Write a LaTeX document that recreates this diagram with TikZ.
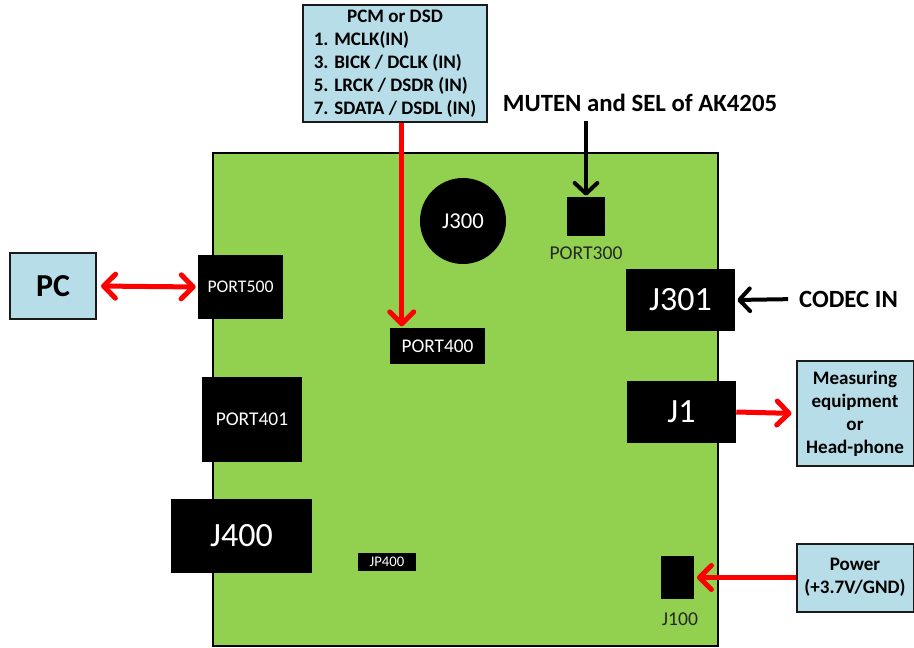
\documentclass[tikz,border=0pt]{standalone}
\usepackage{fontspec}
\setmainfont{Carlito}
\usetikzlibrary{arrows.meta,calc}
\definecolor{boardgreen}{HTML}{92D050}
\definecolor{lightblue}{HTML}{B7DEE8}
\definecolor{boxline}{HTML}{1A1A1A}
\definecolor{lbltext}{HTML}{262626}
\begin{document}
\begin{tikzpicture}[x=0.75pt,y=-0.75pt,
  board/.style={fill=boardgreen, draw=black, line width=1.5pt, inner sep=0pt},
  blk/.style={fill=black, draw=none, text=white, inner sep=0pt},
  bluebox/.style={fill=lightblue, draw=boxline, line width=1.5pt, inner sep=0pt, align=center,
    font=\bfseries\fontsize{14.3}{17.25}\selectfont},
  redarr/.style={draw=red, line width=3.75pt, -{Straight Barb[length=9pt,width=18pt,round]}},
  redarr2/.style={draw=red, line width=3.75pt, {Straight Barb[length=9pt,width=18pt,round]}-{Straight Barb[length=9pt,width=18pt,round]}},
  blkarr/.style={draw=black, line width=3pt, -{Straight Barb[length=8pt,width=17pt,round]}},
  lbl/.style={text=lbltext, inner sep=0pt, font=\fontsize{14.7}{17}\selectfont},
  bigtxt/.style={inner sep=0pt, font=\bfseries\fontsize{18.6}{22}\selectfont}
]
\useasboundingbox (0,0) rectangle (914,648);

% board
\node[board, minimum width=378.75pt, minimum height=369.75pt] (board) at (465.5,399.5) {};

% components
\node[blk, minimum width=63.75pt, minimum height=48pt, font=\fontsize{13.3}{15}\selectfont] (port500) at (240.5,287) {PORT500};
\node[blk, minimum width=71.25pt, minimum height=27pt, font=\fontsize{14.5}{16}\selectfont] (port400) at (437.5,346) {PORT400};
\node[blk, circle, minimum size=64.5pt, font=\fontsize{17}{20}\selectfont] (j300) at (463,221) {J300};
\node[blk, minimum width=28.5pt, minimum height=29.25pt] (port300) at (586,216.5) {};
\node[lbl] (port300lbl) at (586,253) {PORT300};
\node[blk, minimum width=81.75pt, minimum height=46.5pt, font=\fontsize{25.5}{30}\selectfont] (j301) at (680.5,300) {J301};
\node[blk, minimum width=81.75pt, minimum height=46.5pt, font=\fontsize{25.5}{30}\selectfont] (j1) at (681.5,412) {J1};
\node[blk, minimum width=75pt, minimum height=63.75pt, font=\fontsize{14.6}{16}\selectfont] (port401) at (252,419.5) {PORT401};
\node[blk, minimum width=105.75pt, minimum height=55.5pt, font=\fontsize{25.5}{30}\selectfont] (j400) at (241.5,536) {J400};
\node[blk, minimum width=43.5pt, minimum height=13.5pt, font=\fontsize{11}{12}\selectfont] (jp400) at (387,562) {JP400};
\node[blk, minimum width=24.75pt, minimum height=32.25pt] (j100) at (677.5,577.5) {};
\node[lbl] (j100lbl) at (680,619) {J100};

% external boxes
\node[bluebox, minimum width=64.5pt, minimum height=49.5pt, font=\bfseries\fontsize{24}{28}\selectfont] (pc) at (53,286) {PC};
\node[bluebox, minimum width=138pt, minimum height=87.75pt] (pcm) at (395,63.5)
  {\begin{tabular}{@{}l@{}}\multicolumn{1}{@{}c@{}}{PCM or DSD}\\1. MCLK(IN)\\3. BICK / DCLK (IN)\\5. LRCK / DSDR (IN)\\7. SDATA / DSDL (IN)\end{tabular}};
\node[bluebox, minimum width=87.75pt, minimum height=78.75pt] (meas) at (855,413.5)
  {Measuring\\equipment\\or\\Head-phone};
\node[bluebox, minimum width=87.75pt, minimum height=51pt] (power) at (855,577.5)
  {Power\\(+3.7V/GND)};

% labels
\node[bigtxt] (muten) at (640,103) {MUTEN and SEL of AK4205};
\node[bigtxt] (codec) at (848.5,299) {CODEC IN};

% connectors
\draw[redarr2, shorten <=3pt, shorten >=1.5pt] (pc.east) -- (port500.west);
\coordinate (c400) at ($(port400.north west)+(12,0)$);
\draw[redarr, shorten >=1pt] (pcm.south -| c400) -- (c400);
\draw[blkarr, shorten <=7pt, shorten >=0.8pt] (muten.south -| port300.north) -- (port300.north);
\draw[blkarr, shorten <=8pt, shorten >=1.5pt] (codec.west) -- (j301.east);
\draw[redarr, shorten >=3pt] (j1.east) -- (meas.west);
\draw[redarr, shorten >=2pt] (power.west) -- (j100.east);
\end{tikzpicture}
\end{document}
